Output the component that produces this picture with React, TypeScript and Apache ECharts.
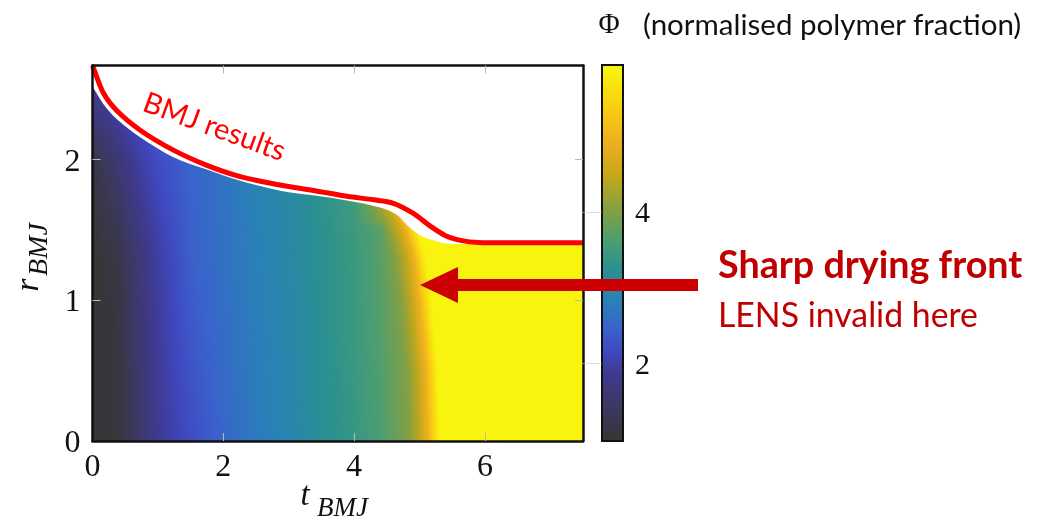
import React, { useEffect, useRef } from "react";
import * as echarts from "echarts";

// ---------- axes ----------
const X_MAX = 7.5;
const Y_MAX = 2.67;
const xLabelValues = [0, 2, 4, 6];
const xTickValues = [2, 4, 6];
const yLabelValues = [0, 1, 2];
const yTickValues = [1, 2];
const cbLabelValues = [2, 4];
const CB_MIN = 0.97;
const CB_MAX = 5.94;

// ---------- colour map (Phi -> colour) ----------
const cmapPhi = [1.0, 1.4, 1.85, 2.15, 2.45, 2.8, 3.25, 3.6, 4.05, 4.5, 4.95, 5.4, 5.9];
const cmapColor = [
  "#363636", "#3c3860", "#3e3a90", "#4048c0", "#3a62cc", "#2a80b8", "#2a9090",
  "#4a9e72", "#88a040", "#c8a818", "#f0b020", "#f8d010", "#f8f410",
];

// ---------- Phi field: profiles in t at several r levels ----------
const profileT = [0, 0.4, 0.7, 1.0, 1.5, 2.0, 2.5, 3.0, 3.5, 4.0, 4.4];
const profileR = [0, 1.3, 2.0, 2.4];
const phiAtR0 = [1.0, 1.05, 1.45, 1.85, 2.2, 2.5, 2.72, 2.9, 3.2, 3.4, 3.6];
const phiAtR13 = [1.0, 1.15, 1.6, 1.95, 2.42, 2.62, 2.8, 3.0, 3.25, 3.45, 3.7];
const phiAtR20 = [1.15, 1.6, 1.95, 2.2, 2.47, 2.65, 2.85, 3.05, 3.3, 3.5, 3.75];
const phiAtR24 = [1.75, 2.05, 2.25, 2.4, 2.6, 2.75, 2.9, 3.1, 3.35, 3.55, 3.8];

// drying front position t_f(r) and Phi across it (offsets in t from the front)
const frontR = [0, 0.5, 1.0, 1.3, 1.5, 1.6, 1.7];
const frontT = [5.13, 5.1, 5.0, 4.92, 4.8, 4.7, 4.55];
const frontOffset = [-0.3, -0.12, 0, 0.08, 0.18];
const frontPhi = [4.0, 4.45, 4.95, 5.4, 5.9];

// upper surface of the field
const surfaceT = [0, 0.16, 0.37, 0.73, 1.23, 1.75, 2.26, 2.87, 3.4, 3.89, 4.4, 4.65, 4.8, 5.0, 5.2, 5.4, 5.8, 6.5, 7.5];
const surfaceR = [2.52, 2.4, 2.29, 2.16, 2.02, 1.93, 1.85, 1.78, 1.745, 1.71, 1.66, 1.61, 1.54, 1.465, 1.43, 1.405, 1.4, 1.4, 1.4];

// BMJ results (red line)
const bmjT = [0, 0.16, 0.37, 0.73, 1.23, 1.75, 2.26, 2.87, 3.4, 3.89, 4.3, 4.6, 4.9, 5.16, 5.4, 5.65, 5.9, 6.5, 7.5];
const bmjR = [2.67, 2.48, 2.35, 2.21, 2.07, 1.96, 1.88, 1.82, 1.78, 1.74, 1.715, 1.69, 1.62, 1.53, 1.46, 1.425, 1.412, 1.41, 1.41];

const SERIF = "'Liberation Serif', 'DejaVu Serif', serif";
const SANS = "Lato, 'Noto Sans', sans-serif";

function interp(xs: number[], ys: number[], x: number): number {
  const n = xs.length;
  if (x <= xs[0]) return ys[0];
  if (x >= xs[n - 1]) return ys[n - 1];
  for (let i = 0; i < n - 1; i++) {
    if (x <= xs[i + 1]) {
      const f = (x - xs[i]) / (xs[i + 1] - xs[i]);
      return ys[i] + f * (ys[i + 1] - ys[i]);
    }
  }
  return ys[n - 1];
}
function hexRgb(h: string): number[] {
  return [parseInt(h.slice(1, 3), 16), parseInt(h.slice(3, 5), 16), parseInt(h.slice(5, 7), 16)];
}
const cmapRgb = cmapColor.map(hexRgb);
function colorAt(phi: number): string {
  const rgb = [0, 1, 2].map((k) => interp(cmapPhi, cmapRgb.map((c) => c[k]), phi));
  return `rgb(${Math.round(rgb[0])},${Math.round(rgb[1])},${Math.round(rgb[2])})`;
}
const profileRows = [phiAtR0, phiAtR13, phiAtR20, phiAtR24];
function basePhi(t: number, r: number): number {
  const vals = profileRows.map((row) => interp(profileT, row, t));
  return interp(profileR, vals, r);
}
function rowStops(r: number) {
  const tf = interp(frontR, frontT, r);
  const pts: number[][] = [];
  for (const t of profileT) if (t < tf + frontOffset[0] - 0.05) pts.push([t, basePhi(t, r)]);
  frontOffset.forEach((o, j) => pts.push([tf + o, frontPhi[j]]));
  pts.push([X_MAX, frontPhi[frontPhi.length - 1]]);
  const stops: { offset: number; color: string }[] = [];
  for (let i = 0; i < pts.length - 1; i++) {
    const [t0, p0] = pts[i];
    const [t1, p1] = pts[i + 1];
    const k = 4;
    for (let s = 0; s < k; s++) {
      const f = s / k;
      const t = t0 + f * (t1 - t0);
      stops.push({ offset: Math.min(1, Math.max(0, t / X_MAX)), color: colorAt(p0 + f * (p1 - p0)) });
    }
  }
  stops.push({ offset: 1, color: colorAt(pts[pts.length - 1][1]) });
  return stops;
}

// smooth path through points that are a function of x (monotone in x)
function smoothPath(pts: number[][]): string {
  const n = pts.length;
  const m: number[] = [];
  for (let i = 0; i < n; i++) {
    const a = pts[Math.max(0, i - 1)];
    const b = pts[Math.min(n - 1, i + 1)];
    m.push((b[1] - a[1]) / (b[0] - a[0]));
  }
  let d = `M${pts[0][0]},${pts[0][1]}`;
  for (let i = 0; i < n - 1; i++) {
    const h = pts[i + 1][0] - pts[i][0];
    const c1x = pts[i][0] + h / 3;
    const c1y = pts[i][1] + (m[i] * h) / 3;
    const c2x = pts[i + 1][0] - h / 3;
    const c2y = pts[i + 1][1] - (m[i + 1] * h) / 3;
    d += ` C${c1x},${c1y} ${c2x},${c2y} ${pts[i + 1][0]},${pts[i + 1][1]}`;
  }
  return d;
}

const DR = 0.02;
const rows: number[][] = [];
for (let r = 0; r < Y_MAX; r += DR) rows.push([r, Math.min(Y_MAX, r + DR)]);

export default function App() {
  const ref = useRef<HTMLDivElement>(null);
  useEffect(() => {
    document.body.style.margin = "0";
    const chart = echarts.init(ref.current!, undefined, { renderer: "svg" });
    const tickStyle = { color: "#b8b8b8", width: 1 };
    const axisLineStyle = { color: "#111", width: 2.5 };
    const option: any = {
      animation: false,
      grid: [
        { left: 92.5, right: 467, top: 65.5, bottom: 83 },
        { left: 602, right: 427, top: 65, bottom: 83 },
      ],
      xAxis: [
        {
          type: "value", gridIndex: 0, min: 0, max: X_MAX, position: "bottom", z: 10,
          axisLine: { show: true, onZero: false, lineStyle: axisLineStyle },
          axisTick: { show: true, inside: true, length: 8, lineStyle: tickStyle, customValues: xTickValues },
          axisLabel: { customValues: xLabelValues, fontFamily: SERIF, fontSize: 32, color: "#111", margin: 8 },
          splitLine: { show: false },
        },
        {
          type: "value", gridIndex: 0, min: 0, max: X_MAX, position: "top", z: 10,
          axisLine: { show: true, onZero: false, lineStyle: axisLineStyle },
          axisTick: { show: true, inside: true, length: 8, lineStyle: tickStyle, customValues: xTickValues },
          axisLabel: { show: false },
          splitLine: { show: false },
        },
        { type: "value", gridIndex: 1, min: 0, max: 1, show: false },
      ],
      yAxis: [
        {
          type: "value", gridIndex: 0, min: 0, max: Y_MAX, position: "left", z: 10,
          axisLine: { show: true, onZero: false, lineStyle: axisLineStyle },
          axisTick: { show: true, inside: true, length: 8, lineStyle: tickStyle, customValues: yTickValues },
          axisLabel: { customValues: yLabelValues, fontFamily: SERIF, fontSize: 32, color: "#111", margin: 12 },
          splitLine: { show: false },
        },
        {
          type: "value", gridIndex: 0, min: 0, max: Y_MAX, position: "right", z: 10,
          axisLine: { show: true, onZero: false, lineStyle: axisLineStyle },
          axisTick: { show: true, inside: true, length: 8, lineStyle: tickStyle, customValues: yTickValues },
          axisLabel: { show: false },
          splitLine: { show: false },
        },
        {
          type: "value", gridIndex: 1, min: CB_MIN, max: CB_MAX, position: "right", z: 10,
          axisLine: { show: false },
          axisTick: { show: true, inside: true, length: 20, lineStyle: { color: "rgba(190,190,190,0.55)", width: 1 }, customValues: cbLabelValues },
          axisLabel: { customValues: cbLabelValues, fontFamily: SERIF, fontSize: 30, color: "#111", margin: 12 },
          splitLine: { show: false },
        },
      ],
      series: [
        {
          type: "custom", xAxisIndex: 0, yAxisIndex: 0, z: 1, silent: true,
          data: rows,
          renderItem: (params: any, api: any) => {
            const r0 = api.value(0);
            const r1 = api.value(1);
            const a = api.coord([0, r1]);
            const b = api.coord([X_MAX, r0]);
            return {
              type: "rect",
              shape: { x: a[0], y: a[1] - 0.4, width: b[0] - a[0], height: b[1] - a[1] + 0.8 },
              style: { fill: new echarts.graphic.LinearGradient(0, 0, 1, 0, rowStops((r0 + r1) / 2)) },
            };
          },
        },
        {
          type: "custom", xAxisIndex: 0, yAxisIndex: 0, z: 2, silent: true,
          data: [[0, 0]],
          renderItem: (params: any, api: any) => {
            const pts = surfaceT.map((t, i) => api.coord([t, surfaceR[i]]));
            const tr = api.coord([X_MAX, Y_MAX]);
            const tl = api.coord([0, Y_MAX]);
            const d = smoothPath(pts) + ` L${tr[0] + 1},${pts[pts.length - 1][1]} L${tr[0] + 1},${tr[1] - 1} L${tl[0] - 1},${tl[1] - 1} L${tl[0] - 1},${pts[0][1]} Z`;
            return { type: "path", shape: { pathData: d }, style: { fill: "#ffffff" } };
          },
        },
        {
          type: "custom", name: "BMJ results", xAxisIndex: 0, yAxisIndex: 0, z: 3, silent: true,
          data: bmjT.map((t, i) => [t, bmjR[i]]),
          renderItem: (params: any, api: any) => {
            if (params.dataIndex !== 0) return null;
            const pts = bmjT.map((t, i) => api.coord([t, bmjR[i]]));
            return {
              type: "path",
              shape: { pathData: smoothPath(pts) },
              style: { fill: "none", stroke: "#ff0000", lineWidth: 5, lineJoin: "round", lineCap: "butt" },
            };
          },
        },
        {
          type: "custom", xAxisIndex: 2, yAxisIndex: 2, z: 2, silent: true,
          data: [[0, CB_MIN]],
          renderItem: (params: any, api: any) => {
            const a = api.coord([0, CB_MAX]);
            const b = api.coord([1, CB_MIN]);
            const stops = cmapPhi
              .map((p, i) => ({ offset: Math.min(1, Math.max(0, (CB_MAX - p) / (CB_MAX - CB_MIN))), color: cmapColor[i] }))
              .reverse();
            return {
              type: "rect",
              shape: { x: a[0], y: a[1], width: b[0] - a[0], height: b[1] - a[1] },
              style: { fill: new echarts.graphic.LinearGradient(0, 0, 0, 1, stops), stroke: "#111", lineWidth: 2 },
            };
          },
        },
      ],
      graphic: [
        { type: "text", x: 609, y: 23, z: 20, style: { text: "Φ", fontFamily: SERIF, fontSize: 29, fill: "#111", align: "center", verticalAlign: "middle" } },
        { type: "text", x: 643, y: 23, z: 20, style: { text: "(normalised polymer fraction)", fontFamily: SANS, fontSize: 29.5, fill: "#111", align: "left", verticalAlign: "middle" } },
        { type: "text", x: 305, y: 494, z: 20, style: { text: "t", fontFamily: SERIF, fontStyle: "italic", fontSize: 33, fill: "#111", align: "center", verticalAlign: "middle" } },
        { type: "text", x: 317, y: 507, z: 20, style: { text: "BMJ", fontFamily: SERIF, fontStyle: "italic", fontSize: 27, fill: "#111", align: "left", verticalAlign: "middle" } },
        { type: "text", x: 27, y: 285, z: 20, rotation: Math.PI / 2, style: { text: "r", fontFamily: SERIF, fontStyle: "italic", fontSize: 33, fill: "#111", align: "center", verticalAlign: "middle" } },
        { type: "text", x: 37, y: 276, z: 20, rotation: Math.PI / 2, style: { text: "BMJ", fontFamily: SERIF, fontStyle: "italic", fontSize: 28, fill: "#111", align: "left", verticalAlign: "middle" } },
        { type: "text", x: 215, y: 125, z: 20, rotation: (-20 * Math.PI) / 180, style: { text: "BMJ results", fontFamily: SANS, fontSize: 29, fill: "#ff0000", align: "center", verticalAlign: "middle" } },
        { type: "rect", z: 20, shape: { x: 456, y: 279, width: 242, height: 12 }, style: { fill: "#cc0000" } },
        { type: "polygon", z: 20, shape: { points: [[420, 285], [458, 267], [458, 303]] }, style: { fill: "#cc0000" } },
        { type: "text", x: 718, y: 263, z: 20, style: { text: "Sharp drying front", fontFamily: SANS, fontWeight: "bold", fontSize: 37.7, fill: "#c00000", align: "left", verticalAlign: "middle" } },
        { type: "text", x: 718, y: 314, z: 20, style: { text: "LENS invalid here", fontFamily: SANS, fontSize: 33.8, fill: "#c00000", align: "left", verticalAlign: "middle" } },
      ],
    };
    chart.setOption(option);
    return () => chart.dispose();
  }, []);
  return <div ref={ref} style={{ position: "fixed", left: 0, top: 0, width: 1050, height: 524 }} />;
}
